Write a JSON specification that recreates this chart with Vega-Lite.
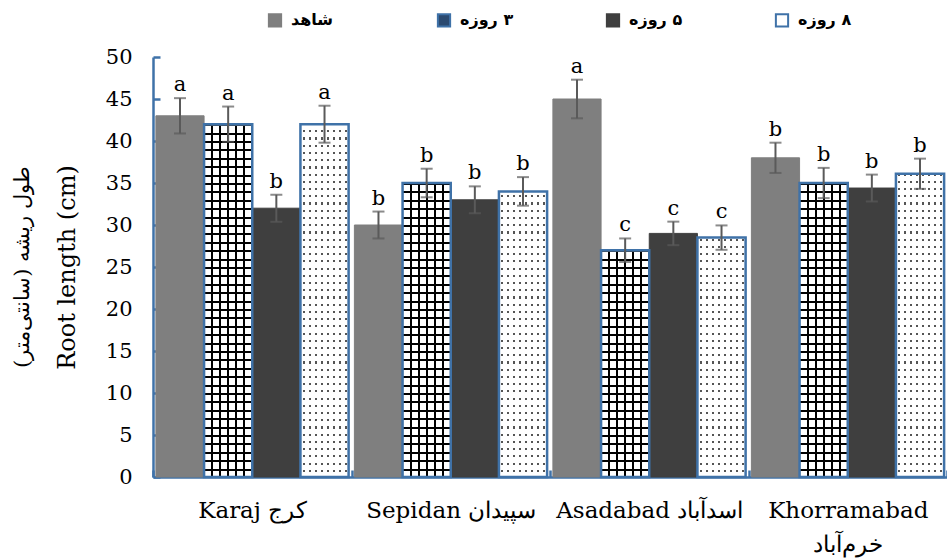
{
  "$schema": "https://vega.github.io/schema/vega-lite/v6.json",
  "width": 794,
  "height": 420,
  "autosize": {"type": "none"},
  "padding": {"left": 153, "top": 57, "right": 0, "bottom": 83},
  "background": "white",
  "config": {
    "view": {"stroke": null},
    "font": "DejaVu Serif",
    "axis": {"grid": false, "labelFont": "DejaVu Serif", "titleFont": "DejaVu Serif", "labelColor": "#000", "titleColor": "#000", "titleFontWeight": "normal", "domainColor": "#3f72a8", "domainWidth": 2.5, "tickColor": "#3f72a8", "tickWidth": 2.5, "tickSize": -7, "labelFontSize": 21, "titleFontSize": 22}
  },
  "title": {"text": "\u200fطول ریشه (سانتی‌متر)\u200f", "orient": "left", "fontSize": 21, "fontWeight": "normal", "font": "DejaVu Serif", "color": "#000", "offset": 22},
  "data": {"values": [
    {"site": "Karaj کرج", "treat": "شاهد", "value": 43, "err": 2.1, "letter": "a"},
    {"site": "Karaj کرج", "treat": "۳ روزه", "value": 42, "err": 2.1, "letter": "a"},
    {"site": "Karaj کرج", "treat": "۵ روزه", "value": 32, "err": 1.6, "letter": "b"},
    {"site": "Karaj کرج", "treat": "۸ روزه", "value": 42, "err": 2.2, "letter": "a"},
    {"site": "Sepidan سپیدان", "treat": "شاهد", "value": 30, "err": 1.6, "letter": "b"},
    {"site": "Sepidan سپیدان", "treat": "۳ روزه", "value": 35, "err": 1.7, "letter": "b"},
    {"site": "Sepidan سپیدان", "treat": "۵ روزه", "value": 33, "err": 1.6, "letter": "b"},
    {"site": "Sepidan سپیدان", "treat": "۸ روزه", "value": 34, "err": 1.7, "letter": "b"},
    {"site": "Asadabad اسدآباد", "treat": "شاهد", "value": 45, "err": 2.3, "letter": "a"},
    {"site": "Asadabad اسدآباد", "treat": "۳ روزه", "value": 27, "err": 1.4, "letter": "c"},
    {"site": "Asadabad اسدآباد", "treat": "۵ روزه", "value": 29, "err": 1.4, "letter": "c"},
    {"site": "Asadabad اسدآباد", "treat": "۸ روزه", "value": 28.5, "err": 1.45, "letter": "c"},
    {"site": "Khorramabad|خرم‌آباد", "treat": "شاهد", "value": 38, "err": 1.8, "letter": "b"},
    {"site": "Khorramabad|خرم‌آباد", "treat": "۳ روزه", "value": 35, "err": 1.8, "letter": "b"},
    {"site": "Khorramabad|خرم‌آباد", "treat": "۵ روزه", "value": 34.4, "err": 1.6, "letter": "b"},
    {"site": "Khorramabad|خرم‌آباد", "treat": "۸ روزه", "value": 36.1, "err": 1.8, "letter": "b"}
  ]},
  "transform": [
    {"calculate": "datum.value + datum.err", "as": "high"},
    {"calculate": "datum.value - datum.err", "as": "low"}
  ],
  "encoding": {
    "x": {"field": "site", "type": "nominal", "sort": null, "scale": {"paddingInner": 0, "paddingOuter": 0},
      "axis": {"title": null, "labelAngle": 0, "tickBand": "extent", "labelExpr": "split(datum.label, '|')", "labelLineHeight": 34, "labelPadding": 29, "labelLimit": 0, "labelFont": "DejaVu Serif", "labelFontSize": 23}},
    "xOffset": {"field": "treat", "type": "nominal", "sort": ["شاهد", "۳ روزه", "۵ روزه", "۸ روزه"], "scale": {"paddingInner": 0, "paddingOuter": 0.06}}
  },
  "layer": [
    {
      "transform": [{"filter": {"field": "treat", "equal": "۳ روزه"}}],
      "mark": {"type": "bar", "fill": {"gradient": "linear", "x1": 0, "y1": 0, "x2": 0, "y2": 1, "stops": [
        {"offset": 0, "color": "#fff"}, {"offset": 0.16, "color": "#fff"},
        {"offset": 0.16, "color": "#000"}, {"offset": 0.165, "color": "#000"}, {"offset": 0.165, "color": "#fff"}, {"offset": 0.18, "color": "#fff"},
        {"offset": 0.18, "color": "#000"}, {"offset": 0.185, "color": "#000"}, {"offset": 0.185, "color": "#fff"}, {"offset": 0.2, "color": "#fff"},
        {"offset": 0.2, "color": "#000"}, {"offset": 0.205, "color": "#000"}, {"offset": 0.205, "color": "#fff"}, {"offset": 0.22, "color": "#fff"},
        {"offset": 0.22, "color": "#000"}, {"offset": 0.225, "color": "#000"}, {"offset": 0.225, "color": "#fff"}, {"offset": 0.24, "color": "#fff"},
        {"offset": 0.24, "color": "#000"}, {"offset": 0.245, "color": "#000"}, {"offset": 0.245, "color": "#fff"}, {"offset": 0.26, "color": "#fff"},
        {"offset": 0.26, "color": "#000"}, {"offset": 0.265, "color": "#000"}, {"offset": 0.265, "color": "#fff"}, {"offset": 0.28, "color": "#fff"},
        {"offset": 0.28, "color": "#000"}, {"offset": 0.285, "color": "#000"}, {"offset": 0.285, "color": "#fff"}, {"offset": 0.3, "color": "#fff"},
        {"offset": 0.3, "color": "#000"}, {"offset": 0.305, "color": "#000"}, {"offset": 0.305, "color": "#fff"}, {"offset": 0.32, "color": "#fff"},
        {"offset": 0.32, "color": "#000"}, {"offset": 0.325, "color": "#000"}, {"offset": 0.325, "color": "#fff"}, {"offset": 0.34, "color": "#fff"},
        {"offset": 0.34, "color": "#000"}, {"offset": 0.345, "color": "#000"}, {"offset": 0.345, "color": "#fff"}, {"offset": 0.36, "color": "#fff"},
        {"offset": 0.36, "color": "#000"}, {"offset": 0.365, "color": "#000"}, {"offset": 0.365, "color": "#fff"}, {"offset": 0.38, "color": "#fff"},
        {"offset": 0.38, "color": "#000"}, {"offset": 0.385, "color": "#000"}, {"offset": 0.385, "color": "#fff"}, {"offset": 0.4, "color": "#fff"},
        {"offset": 0.4, "color": "#000"}, {"offset": 0.405, "color": "#000"}, {"offset": 0.405, "color": "#fff"}, {"offset": 0.42, "color": "#fff"},
        {"offset": 0.42, "color": "#000"}, {"offset": 0.425, "color": "#000"}, {"offset": 0.425, "color": "#fff"}, {"offset": 0.44, "color": "#fff"},
        {"offset": 0.44, "color": "#000"}, {"offset": 0.445, "color": "#000"}, {"offset": 0.445, "color": "#fff"}, {"offset": 0.46, "color": "#fff"},
        {"offset": 0.46, "color": "#000"}, {"offset": 0.465, "color": "#000"}, {"offset": 0.465, "color": "#fff"}, {"offset": 0.48, "color": "#fff"},
        {"offset": 0.48, "color": "#000"}, {"offset": 0.485, "color": "#000"}, {"offset": 0.485, "color": "#fff"}, {"offset": 0.5, "color": "#fff"},
        {"offset": 0.5, "color": "#000"}, {"offset": 0.505, "color": "#000"}, {"offset": 0.505, "color": "#fff"}, {"offset": 0.52, "color": "#fff"},
        {"offset": 0.52, "color": "#000"}, {"offset": 0.525, "color": "#000"}, {"offset": 0.525, "color": "#fff"}, {"offset": 0.54, "color": "#fff"},
        {"offset": 0.54, "color": "#000"}, {"offset": 0.545, "color": "#000"}, {"offset": 0.545, "color": "#fff"}, {"offset": 0.56, "color": "#fff"},
        {"offset": 0.56, "color": "#000"}, {"offset": 0.565, "color": "#000"}, {"offset": 0.565, "color": "#fff"}, {"offset": 0.58, "color": "#fff"},
        {"offset": 0.58, "color": "#000"}, {"offset": 0.585, "color": "#000"}, {"offset": 0.585, "color": "#fff"}, {"offset": 0.6, "color": "#fff"},
        {"offset": 0.6, "color": "#000"}, {"offset": 0.605, "color": "#000"}, {"offset": 0.605, "color": "#fff"}, {"offset": 0.62, "color": "#fff"},
        {"offset": 0.62, "color": "#000"}, {"offset": 0.625, "color": "#000"}, {"offset": 0.625, "color": "#fff"}, {"offset": 0.64, "color": "#fff"},
        {"offset": 0.64, "color": "#000"}, {"offset": 0.645, "color": "#000"}, {"offset": 0.645, "color": "#fff"}, {"offset": 0.66, "color": "#fff"},
        {"offset": 0.66, "color": "#000"}, {"offset": 0.665, "color": "#000"}, {"offset": 0.665, "color": "#fff"}, {"offset": 0.68, "color": "#fff"},
        {"offset": 0.68, "color": "#000"}, {"offset": 0.685, "color": "#000"}, {"offset": 0.685, "color": "#fff"}, {"offset": 0.7, "color": "#fff"},
        {"offset": 0.7, "color": "#000"}, {"offset": 0.705, "color": "#000"}, {"offset": 0.705, "color": "#fff"}, {"offset": 0.72, "color": "#fff"},
        {"offset": 0.72, "color": "#000"}, {"offset": 0.725, "color": "#000"}, {"offset": 0.725, "color": "#fff"}, {"offset": 0.74, "color": "#fff"},
        {"offset": 0.74, "color": "#000"}, {"offset": 0.745, "color": "#000"}, {"offset": 0.745, "color": "#fff"}, {"offset": 0.76, "color": "#fff"},
        {"offset": 0.76, "color": "#000"}, {"offset": 0.765, "color": "#000"}, {"offset": 0.765, "color": "#fff"}, {"offset": 0.78, "color": "#fff"},
        {"offset": 0.78, "color": "#000"}, {"offset": 0.785, "color": "#000"}, {"offset": 0.785, "color": "#fff"}, {"offset": 0.8, "color": "#fff"},
        {"offset": 0.8, "color": "#000"}, {"offset": 0.805, "color": "#000"}, {"offset": 0.805, "color": "#fff"}, {"offset": 0.82, "color": "#fff"},
        {"offset": 0.82, "color": "#000"}, {"offset": 0.825, "color": "#000"}, {"offset": 0.825, "color": "#fff"}, {"offset": 0.84, "color": "#fff"},
        {"offset": 0.84, "color": "#000"}, {"offset": 0.845, "color": "#000"}, {"offset": 0.845, "color": "#fff"}, {"offset": 0.86, "color": "#fff"},
        {"offset": 0.86, "color": "#000"}, {"offset": 0.865, "color": "#000"}, {"offset": 0.865, "color": "#fff"}, {"offset": 0.88, "color": "#fff"},
        {"offset": 0.88, "color": "#000"}, {"offset": 0.885, "color": "#000"}, {"offset": 0.885, "color": "#fff"}, {"offset": 0.9, "color": "#fff"},
        {"offset": 0.9, "color": "#000"}, {"offset": 0.905, "color": "#000"}, {"offset": 0.905, "color": "#fff"}, {"offset": 0.92, "color": "#fff"},
        {"offset": 0.92, "color": "#000"}, {"offset": 0.925, "color": "#000"}, {"offset": 0.925, "color": "#fff"}, {"offset": 0.94, "color": "#fff"},
        {"offset": 0.94, "color": "#000"}, {"offset": 0.945, "color": "#000"}, {"offset": 0.945, "color": "#fff"}, {"offset": 0.96, "color": "#fff"},
        {"offset": 0.96, "color": "#000"}, {"offset": 0.965, "color": "#000"}, {"offset": 0.965, "color": "#fff"}, {"offset": 0.98, "color": "#fff"},
        {"offset": 0.98, "color": "#000"}, {"offset": 0.985, "color": "#000"}, {"offset": 0.985, "color": "#fff"}, {"offset": 1, "color": "#fff"}
      ]}},
      "encoding": {"y": {"datum": 50, "type": "quantitative", "scale": {"domain": [0, 50], "nice": false}, "axis": {"title": "Root length (cm)", "tickCount": 10, "labelPadding": 28, "titlePadding": 26, "labelFont": "DejaVu Serif", "titleFont": "DejaVu Serif", "labelFontSize": 21, "titleFontSize": 24}}, "y2": {"datum": 0}}
    },
    {
      "transform": [{"filter": {"field": "treat", "equal": "۳ روزه"}}],
      "mark": {"type": "bar", "fill": {"gradient": "linear", "x1": 0, "y1": 0, "x2": 1, "y2": 0, "stops": [
        {"offset": 0, "color": "transparent"},
        {"offset": 0.145, "color": "transparent"}, {"offset": 0.145, "color": "#000"}, {"offset": 0.189, "color": "#000"}, {"offset": 0.189, "color": "transparent"},
        {"offset": 0.311, "color": "transparent"}, {"offset": 0.311, "color": "#000"}, {"offset": 0.355, "color": "#000"}, {"offset": 0.355, "color": "transparent"},
        {"offset": 0.478, "color": "transparent"}, {"offset": 0.478, "color": "#000"}, {"offset": 0.522, "color": "#000"}, {"offset": 0.522, "color": "transparent"},
        {"offset": 0.645, "color": "transparent"}, {"offset": 0.645, "color": "#000"}, {"offset": 0.689, "color": "#000"}, {"offset": 0.689, "color": "transparent"},
        {"offset": 0.811, "color": "transparent"}, {"offset": 0.811, "color": "#000"}, {"offset": 0.855, "color": "#000"}, {"offset": 0.855, "color": "transparent"},
        {"offset": 1, "color": "transparent"}
      ]}},
      "encoding": {"y": {"datum": 50}, "y2": {"datum": 0}}
    },
    {
      "transform": [{"filter": {"field": "treat", "equal": "۸ روزه"}}],
      "mark": {"type": "bar", "fill": {"gradient": "linear", "x1": 0, "y1": 0, "x2": 1, "y2": 0, "stops": [
        {"offset": 0, "color": "#fff"},
        {"offset": 0.045, "color": "#fff"}, {"offset": 0.045, "color": "#555"}, {"offset": 0.085, "color": "#555"}, {"offset": 0.085, "color": "#fff"},
        {"offset": 0.17, "color": "#fff"}, {"offset": 0.17, "color": "#555"}, {"offset": 0.21, "color": "#555"}, {"offset": 0.21, "color": "#fff"},
        {"offset": 0.295, "color": "#fff"}, {"offset": 0.295, "color": "#555"}, {"offset": 0.335, "color": "#555"}, {"offset": 0.335, "color": "#fff"},
        {"offset": 0.42, "color": "#fff"}, {"offset": 0.42, "color": "#555"}, {"offset": 0.46, "color": "#555"}, {"offset": 0.46, "color": "#fff"},
        {"offset": 0.545, "color": "#fff"}, {"offset": 0.545, "color": "#555"}, {"offset": 0.585, "color": "#555"}, {"offset": 0.585, "color": "#fff"},
        {"offset": 0.67, "color": "#fff"}, {"offset": 0.67, "color": "#555"}, {"offset": 0.71, "color": "#555"}, {"offset": 0.71, "color": "#fff"},
        {"offset": 0.795, "color": "#fff"}, {"offset": 0.795, "color": "#555"}, {"offset": 0.835, "color": "#555"}, {"offset": 0.835, "color": "#fff"},
        {"offset": 0.92, "color": "#fff"}, {"offset": 0.92, "color": "#555"}, {"offset": 0.96, "color": "#555"}, {"offset": 0.96, "color": "#fff"},
        {"offset": 1, "color": "#fff"}
      ]}},
      "encoding": {"y": {"datum": 43}, "y2": {"datum": 0}}
    },
    {
      "transform": [{"filter": {"field": "treat", "equal": "۸ روزه"}}],
      "mark": {"type": "bar", "fill": {"gradient": "linear", "x1": 0, "y1": 0, "x2": 0, "y2": 1, "stops": [
        {"offset": 0, "color": "transparent"}, {"offset": 0.006, "color": "transparent"}, {"offset": 0.006, "color": "#fff"}, {"offset": 0.02, "color": "#fff"},
        {"offset": 0.02, "color": "transparent"}, {"offset": 0.026, "color": "transparent"}, {"offset": 0.026, "color": "#fff"}, {"offset": 0.04, "color": "#fff"},
        {"offset": 0.04, "color": "transparent"}, {"offset": 0.046, "color": "transparent"}, {"offset": 0.046, "color": "#fff"}, {"offset": 0.06, "color": "#fff"},
        {"offset": 0.06, "color": "transparent"}, {"offset": 0.066, "color": "transparent"}, {"offset": 0.066, "color": "#fff"}, {"offset": 0.08, "color": "#fff"},
        {"offset": 0.08, "color": "transparent"}, {"offset": 0.086, "color": "transparent"}, {"offset": 0.086, "color": "#fff"}, {"offset": 0.1, "color": "#fff"},
        {"offset": 0.1, "color": "transparent"}, {"offset": 0.106, "color": "transparent"}, {"offset": 0.106, "color": "#fff"}, {"offset": 0.12, "color": "#fff"},
        {"offset": 0.12, "color": "transparent"}, {"offset": 0.126, "color": "transparent"}, {"offset": 0.126, "color": "#fff"}, {"offset": 0.14, "color": "#fff"},
        {"offset": 0.14, "color": "transparent"}, {"offset": 0.146, "color": "transparent"}, {"offset": 0.146, "color": "#fff"}, {"offset": 0.16, "color": "#fff"},
        {"offset": 0.16, "color": "transparent"}, {"offset": 0.166, "color": "transparent"}, {"offset": 0.166, "color": "#fff"}, {"offset": 0.18, "color": "#fff"},
        {"offset": 0.18, "color": "transparent"}, {"offset": 0.186, "color": "transparent"}, {"offset": 0.186, "color": "#fff"}, {"offset": 0.2, "color": "#fff"},
        {"offset": 0.2, "color": "transparent"}, {"offset": 0.206, "color": "transparent"}, {"offset": 0.206, "color": "#fff"}, {"offset": 0.22, "color": "#fff"},
        {"offset": 0.22, "color": "transparent"}, {"offset": 0.226, "color": "transparent"}, {"offset": 0.226, "color": "#fff"}, {"offset": 0.24, "color": "#fff"},
        {"offset": 0.24, "color": "transparent"}, {"offset": 0.246, "color": "transparent"}, {"offset": 0.246, "color": "#fff"}, {"offset": 0.26, "color": "#fff"},
        {"offset": 0.26, "color": "transparent"}, {"offset": 0.266, "color": "transparent"}, {"offset": 0.266, "color": "#fff"}, {"offset": 0.28, "color": "#fff"},
        {"offset": 0.28, "color": "transparent"}, {"offset": 0.286, "color": "transparent"}, {"offset": 0.286, "color": "#fff"}, {"offset": 0.3, "color": "#fff"},
        {"offset": 0.3, "color": "transparent"}, {"offset": 0.306, "color": "transparent"}, {"offset": 0.306, "color": "#fff"}, {"offset": 0.32, "color": "#fff"},
        {"offset": 0.32, "color": "transparent"}, {"offset": 0.326, "color": "transparent"}, {"offset": 0.326, "color": "#fff"}, {"offset": 0.34, "color": "#fff"},
        {"offset": 0.34, "color": "transparent"}, {"offset": 0.346, "color": "transparent"}, {"offset": 0.346, "color": "#fff"}, {"offset": 0.36, "color": "#fff"},
        {"offset": 0.36, "color": "transparent"}, {"offset": 0.366, "color": "transparent"}, {"offset": 0.366, "color": "#fff"}, {"offset": 0.38, "color": "#fff"},
        {"offset": 0.38, "color": "transparent"}, {"offset": 0.386, "color": "transparent"}, {"offset": 0.386, "color": "#fff"}, {"offset": 0.4, "color": "#fff"},
        {"offset": 0.4, "color": "transparent"}, {"offset": 0.406, "color": "transparent"}, {"offset": 0.406, "color": "#fff"}, {"offset": 0.42, "color": "#fff"},
        {"offset": 0.42, "color": "transparent"}, {"offset": 0.426, "color": "transparent"}, {"offset": 0.426, "color": "#fff"}, {"offset": 0.44, "color": "#fff"},
        {"offset": 0.44, "color": "transparent"}, {"offset": 0.446, "color": "transparent"}, {"offset": 0.446, "color": "#fff"}, {"offset": 0.46, "color": "#fff"},
        {"offset": 0.46, "color": "transparent"}, {"offset": 0.466, "color": "transparent"}, {"offset": 0.466, "color": "#fff"}, {"offset": 0.48, "color": "#fff"},
        {"offset": 0.48, "color": "transparent"}, {"offset": 0.486, "color": "transparent"}, {"offset": 0.486, "color": "#fff"}, {"offset": 0.5, "color": "#fff"},
        {"offset": 0.5, "color": "transparent"}, {"offset": 0.506, "color": "transparent"}, {"offset": 0.506, "color": "#fff"}, {"offset": 0.52, "color": "#fff"},
        {"offset": 0.52, "color": "transparent"}, {"offset": 0.526, "color": "transparent"}, {"offset": 0.526, "color": "#fff"}, {"offset": 0.54, "color": "#fff"},
        {"offset": 0.54, "color": "transparent"}, {"offset": 0.546, "color": "transparent"}, {"offset": 0.546, "color": "#fff"}, {"offset": 0.56, "color": "#fff"},
        {"offset": 0.56, "color": "transparent"}, {"offset": 0.566, "color": "transparent"}, {"offset": 0.566, "color": "#fff"}, {"offset": 0.58, "color": "#fff"},
        {"offset": 0.58, "color": "transparent"}, {"offset": 0.586, "color": "transparent"}, {"offset": 0.586, "color": "#fff"}, {"offset": 0.6, "color": "#fff"},
        {"offset": 0.6, "color": "transparent"}, {"offset": 0.606, "color": "transparent"}, {"offset": 0.606, "color": "#fff"}, {"offset": 0.62, "color": "#fff"},
        {"offset": 0.62, "color": "transparent"}, {"offset": 0.626, "color": "transparent"}, {"offset": 0.626, "color": "#fff"}, {"offset": 0.64, "color": "#fff"},
        {"offset": 0.64, "color": "transparent"}, {"offset": 0.646, "color": "transparent"}, {"offset": 0.646, "color": "#fff"}, {"offset": 0.66, "color": "#fff"},
        {"offset": 0.66, "color": "transparent"}, {"offset": 0.666, "color": "transparent"}, {"offset": 0.666, "color": "#fff"}, {"offset": 0.68, "color": "#fff"},
        {"offset": 0.68, "color": "transparent"}, {"offset": 0.686, "color": "transparent"}, {"offset": 0.686, "color": "#fff"}, {"offset": 0.7, "color": "#fff"},
        {"offset": 0.7, "color": "transparent"}, {"offset": 0.706, "color": "transparent"}, {"offset": 0.706, "color": "#fff"}, {"offset": 0.72, "color": "#fff"},
        {"offset": 0.72, "color": "transparent"}, {"offset": 0.726, "color": "transparent"}, {"offset": 0.726, "color": "#fff"}, {"offset": 0.74, "color": "#fff"},
        {"offset": 0.74, "color": "transparent"}, {"offset": 0.746, "color": "transparent"}, {"offset": 0.746, "color": "#fff"}, {"offset": 0.76, "color": "#fff"},
        {"offset": 0.76, "color": "transparent"}, {"offset": 0.766, "color": "transparent"}, {"offset": 0.766, "color": "#fff"}, {"offset": 0.78, "color": "#fff"},
        {"offset": 0.78, "color": "transparent"}, {"offset": 0.786, "color": "transparent"}, {"offset": 0.786, "color": "#fff"}, {"offset": 0.8, "color": "#fff"},
        {"offset": 0.8, "color": "transparent"}, {"offset": 0.806, "color": "transparent"}, {"offset": 0.806, "color": "#fff"}, {"offset": 0.82, "color": "#fff"},
        {"offset": 0.82, "color": "transparent"}, {"offset": 0.826, "color": "transparent"}, {"offset": 0.826, "color": "#fff"}, {"offset": 0.84, "color": "#fff"},
        {"offset": 0.84, "color": "transparent"}, {"offset": 0.846, "color": "transparent"}, {"offset": 0.846, "color": "#fff"}, {"offset": 0.86, "color": "#fff"},
        {"offset": 0.86, "color": "transparent"}, {"offset": 0.866, "color": "transparent"}, {"offset": 0.866, "color": "#fff"}, {"offset": 0.88, "color": "#fff"},
        {"offset": 0.88, "color": "transparent"}, {"offset": 0.886, "color": "transparent"}, {"offset": 0.886, "color": "#fff"}, {"offset": 0.9, "color": "#fff"},
        {"offset": 0.9, "color": "transparent"}, {"offset": 0.906, "color": "transparent"}, {"offset": 0.906, "color": "#fff"}, {"offset": 0.92, "color": "#fff"},
        {"offset": 0.92, "color": "transparent"}, {"offset": 0.926, "color": "transparent"}, {"offset": 0.926, "color": "#fff"}, {"offset": 0.94, "color": "#fff"},
        {"offset": 0.94, "color": "transparent"}, {"offset": 0.946, "color": "transparent"}, {"offset": 0.946, "color": "#fff"}, {"offset": 0.96, "color": "#fff"},
        {"offset": 0.96, "color": "transparent"}, {"offset": 0.966, "color": "transparent"}, {"offset": 0.966, "color": "#fff"}, {"offset": 0.98, "color": "#fff"},
        {"offset": 0.98, "color": "transparent"}, {"offset": 0.986, "color": "transparent"}, {"offset": 0.986, "color": "#fff"}, {"offset": 1, "color": "#fff"}
      ]}},
      "encoding": {"y": {"datum": 43}, "y2": {"datum": 0}}
    },
    {
      "transform": [{"filter": {"field": "treat", "oneOf": ["۳ روزه", "۸ روزه"]}}],
      "mark": {"type": "bar", "fill": "#fff", "stroke": "#fff", "strokeWidth": 2},
      "encoding": {"y": {"field": "value", "type": "quantitative"}, "y2": {"datum": 50}}
    },
    {
      "transform": [{"filter": {"field": "treat", "oneOf": ["شاهد", "۵ روزه"]}}],
      "mark": {"type": "bar", "strokeWidth": 1},
      "encoding": {
        "y": {"field": "value", "type": "quantitative"},
        "fill": {"field": "treat", "type": "nominal", "scale": {"domain": ["شاهد", "۳ روزه", "۵ روزه", "۸ روزه"], "range": ["#7f7f7f", "#2b4a70", "#3f3f3f", "#ffffff"]},
          "legend": {"title": null, "orient": "none", "legendX": 114, "legendY": -45, "direction": "horizontal", "gridAlign": "all", "columnPadding": 88, "symbolType": "square", "symbolSize": 150, "symbolStrokeWidth": 2, "labelFontSize": 16, "labelFontWeight": "bold", "labelFont": "DejaVu Sans", "labelColor": "#000", "labelOffset": 8, "labelExpr": "'\u200f' + datum.label"}},
        "stroke": {"field": "treat", "type": "nominal", "scale": {"domain": ["شاهد", "۳ روزه", "۵ روزه", "۸ روزه"], "range": ["#7f7f7f", "#3f72a8", "#3f3f3f", "#3f72a8"]},
          "legend": {"title": null, "orient": "none", "legendX": 114, "legendY": -45, "direction": "horizontal", "gridAlign": "all", "columnPadding": 88, "symbolType": "square", "symbolSize": 150, "symbolStrokeWidth": 2, "labelFontSize": 16, "labelFontWeight": "bold", "labelFont": "DejaVu Sans", "labelColor": "#000", "labelOffset": 8, "labelExpr": "'\u200f' + datum.label"}}
      }
    },
    {
      "transform": [{"filter": {"field": "treat", "oneOf": ["۳ روزه", "۸ روزه"]}}],
      "mark": {"type": "bar", "fill": null, "fillOpacity": 0, "stroke": "#3f72a8", "strokeWidth": 2.5},
      "encoding": {"y": {"field": "value", "type": "quantitative"}, "y2": {"datum": 0}}
    },
    {
      "mark": {"type": "rule", "color": "#5a5a5a", "strokeWidth": 2},
      "encoding": {"y": {"field": "low", "type": "quantitative"}, "y2": {"field": "high"}}
    },
    {
      "mark": {"type": "tick", "color": "#5a5a5a", "size": 12, "thickness": 2},
      "encoding": {"y": {"field": "high", "type": "quantitative"}}
    },
    {
      "mark": {"type": "tick", "color": "#5a5a5a", "size": 12, "thickness": 2},
      "encoding": {"y": {"field": "low", "type": "quantitative"}}
    },
    {
      "mark": {"type": "text", "baseline": "bottom", "dy": -3, "fontSize": 21, "font": "DejaVu Serif", "color": "#000"},
      "encoding": {"y": {"field": "high", "type": "quantitative"}, "text": {"field": "letter"}}
    }
  ]
}
